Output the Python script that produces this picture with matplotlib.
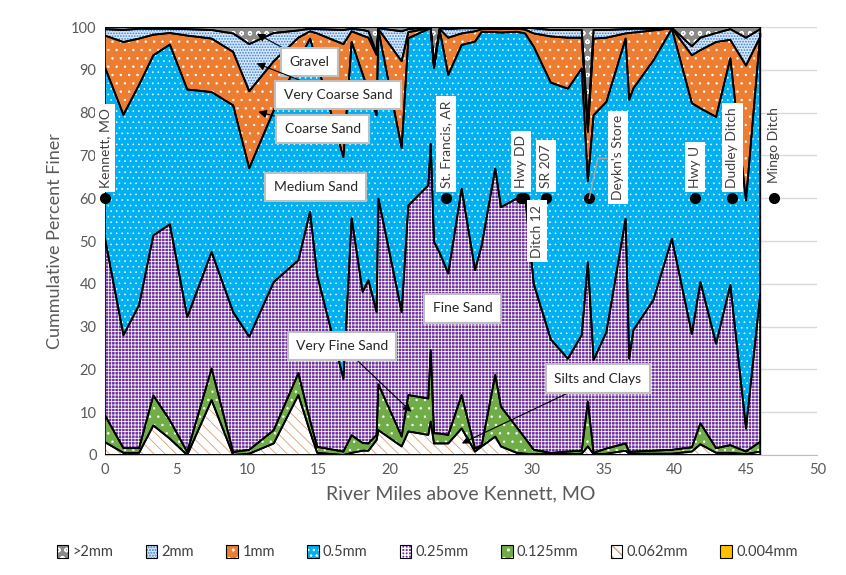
import matplotlib
matplotlib.use("Agg")
import matplotlib.pyplot as plt
from matplotlib.patches import Patch
import numpy as np

plt.rcParams['font.family'] = ['Lato', 'DejaVu Sans']

# River miles of each sample
miles = [0.0, 1.3, 2.4, 3.4, 4.56, 5.78, 7.49, 9.0, 10.13, 11.85, 13.58, 14.4, 14.9,
         16.74, 17.32, 18.09, 18.5, 19.07, 19.2, 20.83, 21.3, 22.7, 22.87, 23.1, 23.5,
         24.1, 25.04, 25.98, 26.45, 27.4, 27.8, 28.9, 29.5, 30.1, 31.3, 32.5, 33.47,
         33.9, 34.3, 35.2, 36.55, 36.8, 37.1, 38.5, 39.8, 41.2, 41.8, 42.9, 43.9, 45.0, 46.0]

# Cumulative percent finer than each sieve size
finer_004 = [0.0] * len(miles)
finer_062 = [3, 0.5, 0.5, 6.9, 3.8, 0, 12.8, 0, 0.3, 2.7, 14, 5.4, 0.5,
             0, 0.5, 1, 1, 3.5, 5.8, 2, 5.5, 4.7, 7.8, 2.7, 2.7,
             2.7, 6.2, 0.8, 2, 4.3, 2, 0.5, 0.3, 0.2, 0.2, 0.2, 0.3,
             2, 0.2, 0.3, 1, 0.3, 0.3, 0.3, 0.3, 0.8, 2.5, 0.5, 0.5, 0.2, 0.8]
finer_125 = [9.3, 1.6, 1.6, 13.9, 8.1, 0.7, 20.2, 0.7, 1.2, 5.8, 19.1, 8.1, 1.9,
             0.8, 4.6, 2.8, 2.7, 4.7, 16.5, 4.3, 14, 13.2, 24.5, 5.1, 5,
             4.7, 14, 1.5, 2.3, 18.7, 11.3, 6.5, 3.9, 1.2, 0.5, 0.8, 1,
             12.5, 0.5, 1.5, 2.7, 0.7, 0.8, 1, 1.2, 1.8, 7.4, 1.6, 2.3, 0.8, 3.1]
finer_25 = [50.7, 28, 35, 51.3, 53.9, 32.2, 47.4, 33.4, 27.6, 40.4, 45.5, 56.8, 42,
            17.8, 55.3, 38.1, 40.8, 33.4, 59.9, 33.4, 58.3, 63, 72.7, 49.8, 47.2,
            42.4, 62.2, 43.2, 49, 66.9, 57.9, 59.9, 60.5, 40, 27, 22.5, 28,
            45, 22.2, 28.7, 55.2, 22.5, 29.2, 36.2, 50.5, 28.3, 40.4, 26, 39.7, 6.2, 37.5]
finer_5 = [90.6, 79.5, 86.5, 93.4, 95.9, 85.4, 84.8, 81.7, 67, 80.5, 92, 97.3, 91.5,
           69.6, 96.5, 89, 85, 79.4, 99.3, 71.7, 97.4, 99.5, 99.6, 90.4, 99.3,
           88.8, 95.8, 96.6, 98.9, 98.8, 98.7, 98.9, 98.5, 95.4, 87, 85.6, 90.3,
           64, 79.4, 82.5, 97.3, 83, 85.7, 92.2, 99.6, 82.2, 81, 79, 92.7, 59.5, 98.5]
finer_1 = [98, 96.5, 97.3, 98.2, 98.6, 98, 97.3, 94.2, 85, 92, 97.5, 99, 98.5,
           96, 99, 98, 97.5, 93.5, 99.5, 92, 98.8, 99.7, 99.8, 90.7, 99.5,
           97.5, 98.5, 99, 99.5, 99.5, 99.5, 99.6, 99.4, 98.5, 97.8, 97.5, 97.5,
           75.5, 97.3, 97.5, 98.5, 98.6, 98.7, 99.2, 99.7, 93.4, 94.6, 96.5, 97, 91, 97.7]
finer_2 = [99.5, 99.3, 99.6, 99.6, 99.6, 99.5, 99.3, 98.5, 96, 98.6, 99.2, 99.6, 99.5,
           99.3, 99.6, 99.3, 99, 94, 99.7, 99, 99.5, 99.9, 99.9, 91.2, 99.7,
           99.5, 99.7, 99.7, 99.8, 99.8, 99.8, 99.8, 99.8, 99.7, 99.3, 99.3, 99.3,
           77, 99.3, 99.3, 99.5, 99.5, 99.6, 99.6, 99.8, 95.5, 97.5, 98.6, 99.5, 97.5, 99.5]
finer_all = [100.0] * len(miles)

# Site markers along the river
site_names = ["Kennett, MO", "St. Francis, AR", "Hwy DD", "Ditch 12", "SR 207",
              "Deykn's Store", "Hwy U", "Dudley Ditch", "Mingo Ditch"]
site_miles = [0.0, 23.95, 29.19, 29.42, 30.95, 34.0, 41.43, 44.05, 47.0]
site_level = [60] * len(site_names)

legend_labels = [">2mm", "2mm", "1mm", "0.5mm", "0.25mm", "0.125mm", "0.062mm", "0.004mm"]

# (lower, upper, face, hatch, hatch colour, hatch width) per size class
layers = [
    (finer_2, finer_all, '#8a8a8a', 'oo', 'white', 0.8),
    (finer_1, finer_2, '#d6e8fa', '......', '#3a7fd5', 0.8),
    (finer_5, finer_1, '#ED7D31', '..', 'white', 0.5),
    (finer_25, finer_5, '#00B0F0', '...', 'white', 0.4),
    (finer_125, finer_25, '#7030A0', '+++++', 'white', 0.55),
    (finer_062, finer_125, '#70AD47', '..', 'white', 0.5),
    (finer_004, finer_062, 'white', '\\\\\\', '#D9A07A', 0.6),
    (finer_004, finer_004, '#FFC000', None, '#FFC000', 0.5),
]

fig = plt.figure(figsize=(8.46, 5.75), dpi=100)
ax = fig.add_axes([0.124, 0.2087, 0.842, 0.7443])

x = np.array(miles)
handles = []
for lo, hi, fc, hatch, hc, hw in layers:
    with plt.rc_context({'hatch.linewidth': hw}):
        ax.fill_between(x, lo, hi, facecolor=fc, hatch=hatch, edgecolor=hc,
                        linewidth=0, zorder=2)
        hp = Patch(facecolor=fc, hatch=hatch, edgecolor=hc, linewidth=0)
    ax.fill_between(x, lo, hi, facecolor='none', edgecolor='black',
                    linewidth=1.3, zorder=3)
    handles.append((hp, Patch(facecolor='none', edgecolor='black', linewidth=0.8)))

# Sites
ax.plot(site_miles, site_level, 'o', color='black', markersize=7, zorder=5,
        clip_on=False)
label_box = dict(boxstyle='square,pad=0.3', fc='white', ec='none')
for name, m, lvl in zip(site_names, site_miles, site_level):
    if name == "Ditch 12":
        ax.text(30.35, lvl - 1.5, name, rotation=90, ha='center', va='top',
                fontsize=10, color='#404040', bbox=label_box, zorder=6)
    elif name == "Deykn's Store":
        ax.plot([m, 34.6, 35.25], [lvl, 69.3, 69.3], color='#a6a6a6', lw=1,
                zorder=5)
        ax.text(36.0, lvl - 0.4, name, rotation=90, ha='center', va='bottom',
                fontsize=10, color='#404040', bbox=label_box, zorder=6)
    elif name == "Mingo Ditch":
        ax.text(m - 0.05, lvl + 3.5, name, rotation=90, ha='center', va='bottom',
                fontsize=10, color='#404040', zorder=6)
    else:
        ax.text(m, lvl + 2.4, name, rotation=90, ha='center', va='bottom',
                fontsize=10, color='#404040', bbox=label_box, zorder=6)

# Size-class callouts
call_box = dict(boxstyle='square,pad=0.6', fc='white', ec='#bfbfbf', lw=1.5)
arrow = dict(arrowstyle='-|>', color='black', lw=0.8, mutation_scale=12,
             shrinkA=0, shrinkB=0)
ax.annotate("Gravel", xy=(10.67, 98.4), xytext=(14.35, 91.8), ha='center',
            va='center', fontsize=10, color='#262626', bbox=call_box,
            arrowprops=arrow, zorder=7)
ax.annotate("Very Coarse Sand", xy=(10.65, 91.5), xytext=(16.36, 84.1),
            ha='center', va='center', fontsize=10, color='#262626', bbox=call_box,
            arrowprops=arrow, zorder=7)
ax.annotate("Coarse Sand", xy=(10.77, 80.2), xytext=(15.3, 76.2), ha='center',
            va='center', fontsize=10, color='#262626', bbox=call_box,
            arrowprops=arrow, zorder=7)
ax.text(14.8, 62.6, "Medium Sand", ha='center', va='center', fontsize=10,
        color='#262626', bbox=call_box, zorder=7)
ax.annotate("Very Fine Sand", xy=(21.5, 10.1), xytext=(16.64, 25.5), ha='center',
            va='center', fontsize=10, color='#262626', bbox=call_box,
            arrowprops=arrow, zorder=7)
ax.text(25.1, 34.3, "Fine Sand", ha='center', va='center', fontsize=10,
        color='#262626', bbox=call_box, zorder=7)
ax.annotate("Silts and Clays", xy=(25.05, 2.7), xytext=(34.6, 17.8), ha='center',
            va='center', fontsize=10, color='#262626', bbox=call_box,
            arrowprops=arrow, zorder=7)

# Axes styling
ax.set_xlim(0, 50)
ax.set_ylim(0, 100)
ax.set_xticks(np.arange(0, 51, 5))
ax.set_yticks(np.arange(0, 101, 10))
ax.yaxis.grid(True, color='#d9d9d9', lw=1, zorder=0)
ax.set_axisbelow(True)
ax.tick_params(length=0, labelsize=10.5, labelcolor='#595959', pad=6)
for side in ['top', 'right']:
    ax.spines[side].set_visible(False)
for side in ['left', 'bottom']:
    ax.spines[side].set_color('#bfbfbf')
ax.set_xlabel("River Miles above Kennett, MO", fontsize=14, color='#595959',
              labelpad=6)
ax.set_ylabel("Cummulative Percent Finer", fontsize=13, color='#595959',
              labelpad=6)

fig.legend(handles, legend_labels, loc='center', bbox_to_anchor=(0.505, 0.04),
           ncol=8, frameon=False, fontsize=10.5, handlelength=0.8,
           handleheight=1.0, handletextpad=0.3, columnspacing=2.2,
           labelcolor='#404040')

fig.savefig("out.png", dpi=100)
